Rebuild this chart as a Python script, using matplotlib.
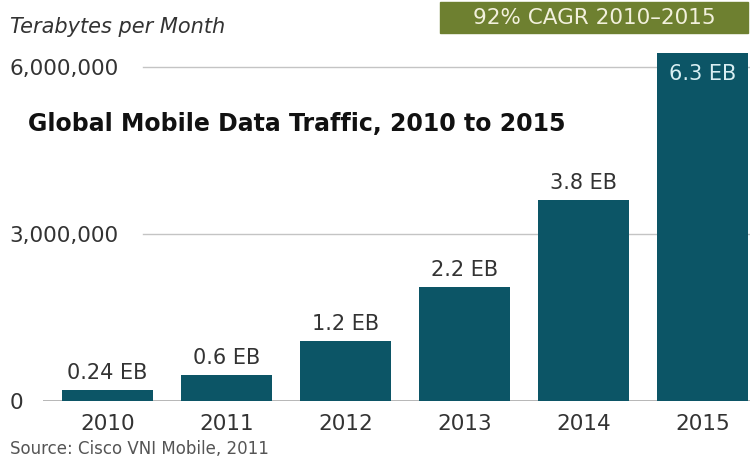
import numpy as np
import matplotlib
matplotlib.use("Agg")
import matplotlib.pyplot as plt
from matplotlib.patches import Rectangle

plt.rcParams['font.family'] = ['DejaVu Sans']

# data (terabytes per month)
years = ["2010", "2011", "2012", "2013", "2014", "2015"]
traffic = [200000, 470000, 1070000, 2050000, 3610000, 6250000]
labels = ["0.24 EB", "0.6 EB", "1.2 EB", "2.2 EB", "3.8 EB", "6.3 EB"]
yticks = [0, 3000000, 6000000]
ytick_labels = ["0", "3,000,000", "6,000,000"]

bar_color = "#0c5566"
text_color = "#333333"
grid_color = "#c4c4c4"

W, H = 750, 459
fig = plt.figure(figsize=(W / 100, H / 100), dpi=100)
ax = fig.add_axes([43 / W, (H - 401) / H, (W - 43) / W, 401 / H])

x = np.arange(len(years))
ax.set_xlim(-0.54, 5.40)
ax.set_ylim(0, 7.2e6)

for s in ax.spines.values():
    s.set_visible(False)

# gridlines
for v in yticks[1:]:
    ax.axhline(v, xmin=0.141, xmax=1, color=grid_color, lw=1, zorder=0)
ax.axhline(0, color="#aaaaaa", lw=1.2, zorder=0)

ax.bar(x, traffic, width=0.76, color=bar_color, zorder=2)

# bar labels
for i, (v, lab) in enumerate(zip(traffic, labels)):
    if i == len(traffic) - 1:
        ax.annotate(lab, (i, v), xytext=(0, -8), textcoords="offset points",
                    ha="center", va="top", fontsize=15, color="#d8eef2", zorder=3)
    else:
        ax.annotate(lab, (i, v), xytext=(0, 5), textcoords="offset points",
                    ha="center", va="bottom", fontsize=15, color=text_color, zorder=3)

# axis ticks
ax.set_xticks(x)
ax.set_xticklabels(years, fontsize=15.5, color=text_color)
ax.set_yticks(yticks)
ax.set_yticklabels(ytick_labels, fontsize=15.5, color=text_color, ha="left")
ax.tick_params(axis="both", length=0)
ax.tick_params(axis="x", pad=9)
ax.tick_params(axis="y", pad=24)

# texts
fig.text(10 / W, 1 - 27 / H, "Terabytes per Month", fontsize=15, style="italic",
         color=text_color, ha="left", va="center")
fig.text(28 / W, 1 - 124 / H, "Global Mobile Data Traffic, 2010 to 2015", fontsize=17,
         fontweight="bold", color="#111111", ha="left", va="center")
fig.text(10 / W, 1 - 449 / H, "Source: Cisco VNI Mobile, 2011", fontsize=12,
         color="#555555", ha="left", va="center")

fig.patches.append(Rectangle((440 / W, 1 - 33 / H), 308 / W, 31 / H,
                             transform=fig.transFigure, color="#6e8030", zorder=0))
fig.text(594 / W, 1 - 18 / H, "92% CAGR 2010\u20132015", fontsize=15.5,
         color="#f2f0dc", ha="center", va="center")

fig.savefig("out.png", dpi=100)
